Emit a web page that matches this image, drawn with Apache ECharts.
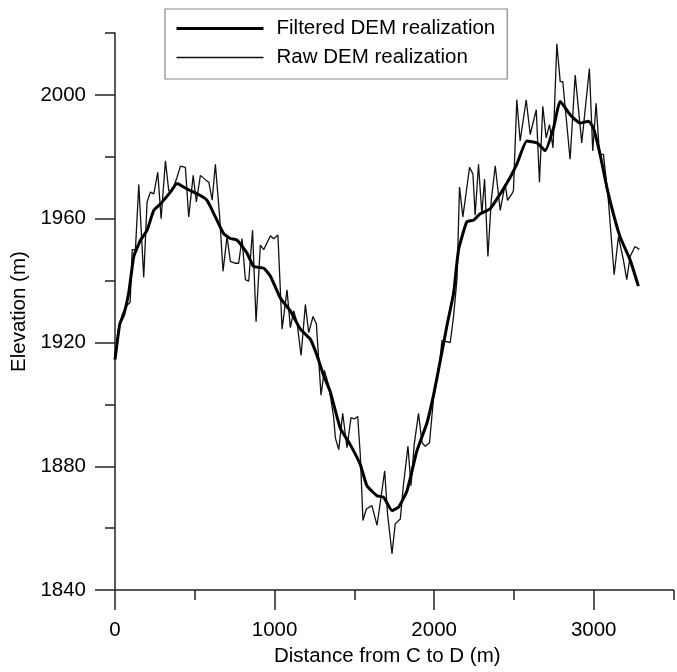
<!DOCTYPE html>
<html>
<head>
<meta charset="utf-8">
<script src="https://cdn.jsdelivr.net/npm/echarts@6/dist/echarts.min.js"></script>
<style>
  html, body { margin: 0; padding: 0; background: #fff; }
  #chart { width: 677px; height: 672px; }
</style>
</head>
<body>
<div id="chart"></div>
<script>
// Distance (m) and elevation (m) of the raw DEM realization
var rawDist = [0,20,45,76,95,108,128,149,180,201,222,243,268,289,316,337,358,389,410,441,462,490,510,535,573,588,609,629,656,677,702,723,755,775,796,817,838,862,884,911,932,974,994,1021,1047,1078,1099,1120,1141,1166,1193,1214,1241,1262,1291,1312,1339,1370,1381,1402,1427,1454,1479,1500,1521,1537,1554,1575,1610,1642,1667,1690,1708,1736,1756,1788,1808,1836,1855,1875,1902,1924,1944,1971,1996,2028,2049,2101,2122,2143,2159,2180,2222,2243,2257,2278,2299,2316,2337,2358,2383,2414,2445,2460,2487,2497,2518,2539,2577,2602,2640,2660,2681,2702,2723,2745,2769,2790,2806,2852,2884,2925,2973,2994,3015,3036,3061,3092,3128,3155,3186,3207,3228,3259,3286];
var rawElev = [1914.5,1924,1929,1932,1933,1950,1950,1971,1941,1965.4,1968.6,1968,1975,1960,1978.7,1969,1969,1973.4,1977,1976.6,1960.6,1974,1965.4,1974,1972.3,1971.8,1966,1977.6,1960.6,1943,1954.2,1946.2,1945.6,1945.6,1953.6,1940.3,1939.8,1956.3,1926.7,1951.5,1950,1954.5,1953.5,1954.7,1924.3,1937,1924.8,1930.2,1926.4,1915.8,1932.3,1923.2,1928.4,1926,1903,1911,1906.2,1896,1889.2,1885.4,1897.1,1886,1895.7,1895.3,1896.1,1883.8,1862.5,1866.2,1867.3,1860.9,1870,1878.5,1864.6,1851.8,1861.4,1863,1874.2,1886.5,1873.7,1887,1897.1,1887.6,1886.5,1887.6,1901.9,1910.5,1920.6,1920,1928.6,1940.3,1970.2,1960.6,1976.6,1974.4,1961.1,1977.6,1961.6,1972.8,1947.8,1965.9,1977.1,1962.7,1971.2,1965.9,1968,1969.1,1998.4,1985.1,1998.4,1987.2,1995.2,1971.8,1996.3,1986.1,1990.4,1982.9,2016.5,2004.3,2004.3,1979.2,2006.4,1984.5,2008.5,1981.9,1997.3,1980.8,1980.8,1965.9,1941.9,1954.2,1946.7,1940.3,1947.8,1951,1950.1];

// Distance (m) and elevation (m) of the filtered DEM realization
var filtDist = [0,30,55,86,118,160,201,243,285,347,389,452,535,577,629,681,723,765,828,869,932,974,1036,1099,1162,1224,1266,1307,1349,1412,1474,1537,1579,1642,1683,1736,1777,1830,1892,1955,1996,2038,2080,2122,2153,2205,2247,2289,2351,2414,2477,2518,2581,2644,2696,2748,2790,2852,2915,2967,2998,3040,3082,3123,3165,3228,3280];
var filtElev = [1914.5,1926,1929,1936,1947.8,1953.1,1956.3,1962.7,1964.8,1968.6,1971.4,1969.6,1967.5,1965.9,1960.6,1955.2,1953.6,1953.1,1948.8,1944.6,1944,1941.4,1934.4,1930.2,1924.3,1921.1,1915.8,1909.4,1904.1,1892.3,1887,1880.6,1873.7,1870.5,1870,1865.7,1866.8,1872.1,1885,1894,1903,1914,1925.4,1936,1950,1959,1959.5,1961.6,1963.2,1968,1973.4,1977.6,1985.1,1984.5,1982,1989.3,1997.9,1993.6,1990.9,1991.5,1989.3,1980.8,1970.2,1961.6,1954.2,1946.7,1938.2];

// Axis ticks and labels
var xMajorTicks = [0, 1000, 2000, 3000];
var xMinorTicks = [500, 1500, 2500, 3500];
var yMajorTicks = [1840, 1880, 1920, 1960, 2000];
var yMinorTicks = [1860, 1900, 1940, 1980, 2020];

var seriesNames = ['Filtered DEM realization', 'Raw DEM realization'];
var xTitle = 'Distance from C to D (m)';
var yTitle = 'Elevation (m)';

function pairs(xs, ys) {
  var out = [];
  for (var i = 0; i < xs.length; i++) out.push([xs[i], ys[i]]);
  return out;
}
function plain(v) { return String(v); }

var FONT = '"Liberation Sans", Arial, Helvetica, sans-serif';
var AXIS_COLOR = '#222';

var chart = echarts.init(document.getElementById('chart'), null, { renderer: 'canvas' });
chart.setOption({
  animation: false,
  backgroundColor: '#fff',
  textStyle: { fontFamily: FONT },
  grid: { left: 115, right: 3.5, top: 33, bottom: 75, containLabel: false },
  legend: {
    orient: 'vertical',
    left: 165,
    top: 9,
    padding: [9, 12, 11, 10],
    borderColor: '#888',
    borderWidth: 1.2,
    itemWidth: 87,
    itemHeight: 20,
    itemGap: 8,
    selectedMode: false,
    textStyle: { fontFamily: FONT, fontSize: 20.5, color: '#000', padding: [0, 0, 0, 8] },
    data: [
      { name: seriesNames[0], itemStyle: { opacity: 0 }, lineStyle: { width: 3, color: '#000' } },
      { name: seriesNames[1], itemStyle: { opacity: 0 }, lineStyle: { width: 1.3, color: '#111' } }
    ]
  },
  xAxis: [
    {
      type: 'value', min: 0, max: 3500, interval: 1000, position: 'bottom',
      name: xTitle, nameLocation: 'middle', nameGap: 50,
      nameTextStyle: { fontFamily: FONT, fontSize: 20.5, color: '#000', padding: [0, 14, 0, 0] },
      axisLine: { show: true, lineStyle: { color: AXIS_COLOR, width: 1.5 } },
      axisTick: { show: true, inside: false, length: 20, customValues: xMajorTicks, lineStyle: { color: AXIS_COLOR, width: 1.5 } },
      axisLabel: { show: true, customValues: xMajorTicks, formatter: plain, margin: 30, fontFamily: FONT, fontSize: 20.5, color: '#000' },
      splitLine: { show: false }
    },
    {
      type: 'value', min: 0, max: 3500, interval: 500, position: 'bottom',
      axisLine: { show: false },
      axisTick: { show: true, inside: false, length: 10, customValues: xMinorTicks, lineStyle: { color: AXIS_COLOR, width: 1.5 } },
      axisLabel: { show: false },
      splitLine: { show: false }
    }
  ],
  yAxis: [
    {
      type: 'value', min: 1840, max: 2020, interval: 40, position: 'left',
      name: yTitle, nameLocation: 'middle', nameGap: 83, nameRotate: 90,
      nameTextStyle: { fontFamily: FONT, fontSize: 20.5, color: '#000' },
      axisLine: { show: true, lineStyle: { color: AXIS_COLOR, width: 1.5 } },
      axisTick: { show: true, inside: false, length: 20, customValues: yMajorTicks, lineStyle: { color: AXIS_COLOR, width: 1.5 } },
      axisLabel: { show: true, customValues: yMajorTicks, formatter: plain, margin: 29, fontFamily: FONT, fontSize: 20.5, color: '#000' },
      splitLine: { show: false }
    },
    {
      type: 'value', min: 1840, max: 2020, interval: 20, position: 'left',
      axisLine: { show: false },
      axisTick: { show: true, inside: false, length: 10, customValues: yMinorTicks, lineStyle: { color: AXIS_COLOR, width: 1.5 } },
      axisLabel: { show: false },
      splitLine: { show: false }
    }
  ],
  series: [
    {
      name: seriesNames[1], type: 'line', xAxisIndex: 0, yAxisIndex: 0,
      data: pairs(rawDist, rawElev),
      symbol: 'none', showSymbol: false,
      lineStyle: { color: '#111', width: 1.3 },
      z: 2
    },
    {
      name: seriesNames[0], type: 'line', xAxisIndex: 0, yAxisIndex: 0,
      data: pairs(filtDist, filtElev),
      symbol: 'none', showSymbol: false, smooth: 0.15,
      lineStyle: { color: '#000', width: 3 },
      z: 3
    }
  ]
});
</script>
</body>
</html>
